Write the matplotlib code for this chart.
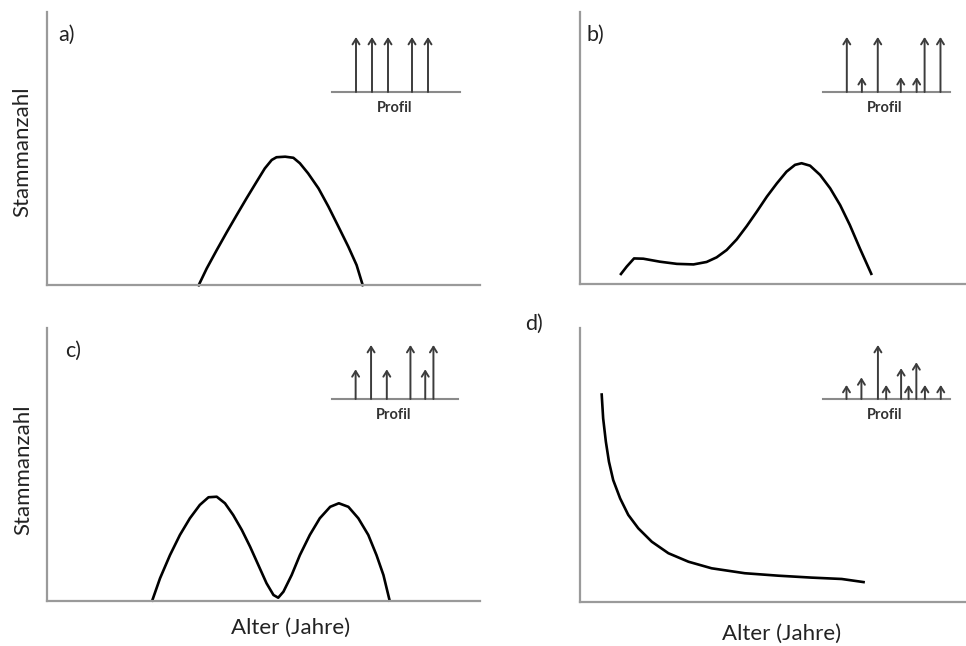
import numpy as np
import matplotlib
matplotlib.use('Agg')
import matplotlib.pyplot as plt

plt.rcParams['font.family'] = ['Lato', 'DejaVu Sans']

# curve a) - single peak
a_x = [34.9, 36.9, 39.2, 41.5, 43.8, 46.1, 48.4, 50.3, 51.9, 53.0, 55.0, 56.9, 58.4,
       60.3, 62.7, 65.0, 67.3, 69.6, 71.5, 73.0]
a_y = [-0.5, 6.1, 12.8, 19.3, 25.6, 31.8, 37.8, 42.7, 45.8, 46.8, 47.0, 46.6, 44.6,
       40.9, 35.4, 28.7, 21.4, 14.0, 7.3, -0.5]

# curve b) - small shoulder then peak
b_x = [10.4, 12.1, 14.0, 16.4, 20.7, 25.1, 29.4, 32.8, 35.4, 38.0, 40.6, 43.2, 45.8,
       48.4, 51.0, 53.5, 55.7, 57.4, 59.6, 62.2, 64.8, 67.4, 69.9, 72.5, 75.6]
b_y = [3.3, 6.4, 9.4, 9.3, 8.2, 7.4, 7.2, 8.1, 9.8, 12.5, 16.4, 21.3, 26.6,
       32.1, 37.0, 41.3, 43.8, 44.4, 43.5, 40.1, 35.2, 29.0, 21.7, 13.1, 3.3]

# curve c) - two peaks
c_x = [24.2, 26.1, 28.4, 30.7, 33.0, 35.3, 37.3, 39.2, 41.1, 43.0, 45.0, 46.9, 48.8,
       50.7, 52.3, 53.4, 54.6, 56.5, 58.4, 60.7, 63.0, 65.4, 67.4, 69.6, 71.9, 74.2,
       76.1, 77.7, 79.2]
c_y = [-0.3, 8.3, 16.8, 24.2, 30.3, 35.2, 38.0, 38.2, 35.8, 31.5, 26.0, 19.9, 13.2,
       6.5, 2.2, 1.2, 3.4, 9.5, 16.8, 24.2, 30.3, 34.5, 35.8, 34.5, 30.3, 24.2,
       16.8, 9.5, -0.3]

# curve d) - decreasing (plenter)
d_x = [5.6, 6.0, 6.7, 7.5, 8.6, 10.4, 12.5, 15.1, 18.6, 22.9, 28.1, 34.1, 42.7,
       51.4, 60.0, 67.8, 73.8]
d_y = [76.2, 67.0, 58.5, 51.2, 44.5, 37.8, 31.8, 26.9, 22.0, 17.8, 14.7, 12.3, 10.5,
       9.6, 8.9, 8.4, 7.2]

# profile insets: stem positions and relative heights
prof_a_pos = [1.5, 2.5, 3.5, 5.0, 6.0]
prof_a_h = [1.0, 1.0, 1.0, 1.0, 1.0]
prof_b_pos = [1.5, 2.45, 3.45, 4.9, 5.9, 6.4, 7.4]
prof_b_h = [1.0, 0.27, 1.0, 0.27, 0.27, 1.0, 1.0]
prof_c_pos = [1.5, 2.48, 3.48, 4.98, 5.92, 6.44]
prof_c_h = [0.55, 1.0, 0.55, 1.0, 0.55, 1.0]
prof_d_pos = [1.48, 2.42, 3.46, 3.98, 4.92, 5.39, 5.88, 6.42, 7.42]
prof_d_h = [0.26, 0.4, 1.0, 0.26, 0.57, 0.26, 0.68, 0.26, 0.26]

W, H = 966, 646
fig = plt.figure(figsize=(W / 100, H / 100), dpi=100)


def box(l, t, r, b):
    # pixel box -> figure fraction
    return [l / W, (H - b) / H, (r - l) / W, (b - t) / H]


def main_axes(rect, xs, ys):
    ax = fig.add_axes(rect)
    ax.plot(xs, ys, color='black', lw=1.9, clip_on=False,
            solid_joinstyle='round', solid_capstyle='butt')
    ax.set_xlim(0, 100)
    ax.set_ylim(0, 100)
    for s in ['top', 'right']:
        ax.spines[s].set_visible(False)
    for s in ['left', 'bottom']:
        ax.spines[s].set_color('#9a9a9a')
        ax.spines[s].set_linewidth(1.6)
    ax.set_xticks([])
    ax.set_yticks([])
    ax.patch.set_alpha(0)
    return ax


def profile(rect, pos, hts):
    ax = fig.add_axes(rect)
    ax.set_xlim(0, 8)
    ax.set_ylim(0, 1)
    ax.axis('off')
    ax.axhline(0, color='#8a8a8a', lw=1.5, clip_on=False)
    for x, h in zip(pos, hts):
        ax.annotate('', xy=(x, h), xytext=(x, 0),
                    arrowprops=dict(arrowstyle='->,head_width=0.25,head_length=0.4',
                                    color='#3c3c3c', lw=1.4, shrinkA=0, shrinkB=0))
    ax.text(3.9, -0.3, 'Profil', ha='center', va='center', fontsize=10.5,
            fontweight='bold', color='#333333', clip_on=False)
    return ax


main_axes(box(47, 12, 480, 285), a_x, a_y)
main_axes(box(580, 12, 966, 284), b_x, b_y)
main_axes(box(47, 328, 480, 601), c_x, c_y)
main_axes(box(580, 328, 966, 602), d_x, d_y)

profile(box(332, 37, 460, 92), prof_a_pos, prof_a_h)
profile(box(823, 37, 950, 92), prof_b_pos, prof_b_h)
profile(box(332, 345, 458, 399), prof_c_pos, prof_c_h)
profile(box(823, 345, 950, 399), prof_d_pos, prof_d_h)

# panel letters
for lbl, x, y in [('a)', 58, 35), ('b)', 587, 35), ('c)', 65, 351), ('d)', 525, 324)]:
    fig.text(x / W, 1 - y / H, lbl, fontsize=15.5, ha='left', va='center', color='#222222')

# axis labels
fig.text(22 / W, 1 - 152 / H, 'Stammanzahl', rotation=90, fontsize=16,
         ha='center', va='center', color='#222222')
fig.text(23 / W, 1 - 470 / H, 'Stammanzahl', rotation=90, fontsize=16,
         ha='center', va='center', color='#222222')
fig.text(291 / W, 1 - 628 / H, 'Alter (Jahre)', fontsize=16,
         ha='center', va='center', color='#222222')
fig.text(782 / W, 1 - 634 / H, 'Alter (Jahre)', fontsize=16,
         ha='center', va='center', color='#222222')

fig.savefig('out.png', dpi=100)
